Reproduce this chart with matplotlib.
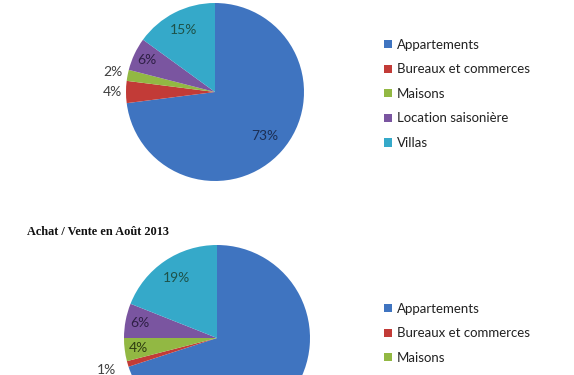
import matplotlib.pyplot as plt
import numpy as np

# === DATA ===
categories = ['Appartements', 'Bureaux et commerces', 'Maisons', 'Location saisonière', 'Villas']
top_values = [73, 4, 2, 6, 15]
bottom_values = [70, 1, 4, 6, 19]
bottom_title = 'Achat / Vente en Août 2013'

# === STYLE ===
colors = ['#3F74C0', '#C23B37', '#92B843', '#7A55A0', '#35A9C9']
top_label_dist = [0.75, 1.15, 1.17, 0.84, 0.78]
bottom_label_dist = [0.78, 1.24, 0.85, 0.84, 0.78]
top_label_colors = ['#1c2f55', '#404040', '#404040', '#2e1f45', '#1e5248']
bottom_label_colors = ['#1c2f55', '#404040', '#2f3d12', '#2e1f45', '#1e5248']
FONT = 'Lato'

W, H = 574, 375
fig = plt.figure(figsize=(W / 100, H / 100), dpi=100)
fig.patch.set_facecolor('white')


def pie_axes(cx, cy, r):
    # pixel centre / radius -> figure axes rect
    return fig.add_axes([(cx - r) / W, (H - cy - r) / H, 2 * r / W, 2 * r / H])


def draw_pie(ax, values, dists, lcolors):
    wedges, _ = ax.pie(values, colors=colors, startangle=90, counterclock=False,
                       radius=1, wedgeprops=dict(linewidth=0))
    total = float(sum(values))
    cum = 0
    for v, d, c in zip(values, dists, lcolors):
        mid = 90 - (cum + v / 2) / total * 360
        cum += v
        a = np.deg2rad(mid)
        ax.text(d * np.cos(a), d * np.sin(a), f'{v}%', ha='center', va='center',
                fontsize=10, color=c, family=FONT, clip_on=False)
    ax.set_xlim(-1, 1)
    ax.set_ylim(-1, 1)
    ax.set_aspect('equal')
    ax.axis('off')
    return wedges


ax1 = pie_axes(215, 92, 89)
w1 = draw_pie(ax1, top_values, top_label_dist, top_label_colors)

ax2 = pie_axes(217, 338, 93)
w2 = draw_pie(ax2, bottom_values, bottom_label_dist, bottom_label_colors)

for wedges, ytop in [(w1, 27), (w2, 291)]:
    leg = fig.legend(wedges, categories, loc='upper left',
                     bbox_to_anchor=(372 / W, 1 - ytop / H), frameon=False,
                     handlelength=0.6, handleheight=0.6, handletextpad=0.4,
                     labelspacing=0.95, prop=dict(family=FONT, size=9.5))
    for t in leg.get_texts():
        t.set_color('#222222')

fig.text(27 / W, 1 - 232 / H, bottom_title, ha='left', va='center',
         fontsize=8.8, fontweight='bold', family='Liberation Serif', color='#111111')

fig.savefig('out.png', dpi=100)
